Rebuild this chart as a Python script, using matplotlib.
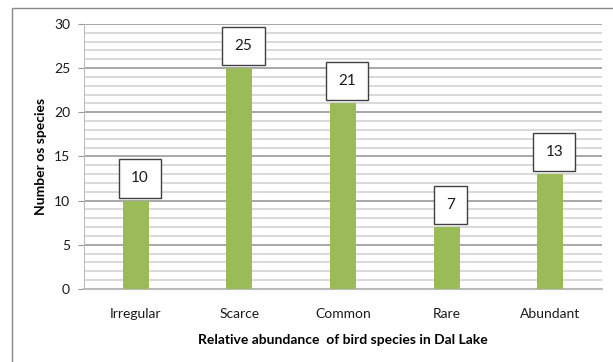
import matplotlib
matplotlib.use('Agg')
import matplotlib.pyplot as plt
from matplotlib.patches import Rectangle
from matplotlib.ticker import MultipleLocator

# datos
categorias = ['Irregular', 'Scarce', 'Common', 'Rare', 'Abundant']
especies = [10, 25, 21, 7, 13]

plt.rcParams['font.family'] = ['Lato', 'DejaVu Sans']

fig = plt.figure(figsize=(6.13, 3.62), dpi=100)
ax = fig.add_axes([0.137, 0.2017, 0.845, 0.732])

x = range(len(categorias))
ax.bar(x, especies, width=0.25, color='#9BBB59', zorder=3)

# etiquetas en cajas
for i, v in enumerate(especies):
    ax.annotate(str(v), xy=(i, v), xytext=(3, 11), textcoords='offset points',
                ha='center', va='bottom', fontsize=11, color='#1a1a1a', zorder=5,
                bbox=dict(boxstyle='square,pad=0.8', fc='white', ec='#404040', lw=1))

ax.set_xlim(-0.5, len(categorias) - 0.5)
ax.set_ylim(0, 30)
ax.yaxis.set_major_locator(MultipleLocator(5))
ax.yaxis.set_minor_locator(MultipleLocator(1))
ax.grid(which='major', axis='y', color='#999999', lw=1.2, zorder=0)
ax.grid(which='minor', axis='y', color='#d9d9d9', lw=1.4, zorder=0)
ax.tick_params(axis='y', which='major', length=4, color='#999999', labelsize=10, labelcolor='#1a1a1a', pad=6)
ax.tick_params(axis='y', which='minor', length=0)
ax.tick_params(axis='x', length=0, labelsize=10, labelcolor='#1a1a1a', pad=14)
ax.set_xticks(list(x))
ax.set_xticklabels(categorias)

for s in ['top', 'right']:
    ax.spines[s].set_visible(False)
ax.spines['left'].set_color('#bbbbbb')
ax.spines['bottom'].set_color('#bbbbbb')
ax.spines['bottom'].set_linewidth(1.5)

ax.set_ylabel('Number os species', fontsize=10, fontweight='bold', labelpad=5)
ax.set_xlabel('Relative abundance  of bird species in Dal Lake', fontsize=10, fontweight='bold', labelpad=10)

# marco exterior del grafico
fig.patches.append(Rectangle((12 / 613, -0.2), 1.2, 1.2 - 8 / 362, transform=fig.transFigure,
                             fill=False, ec='#888888', lw=1, clip_on=False))

fig.savefig('out.png', dpi=100)
